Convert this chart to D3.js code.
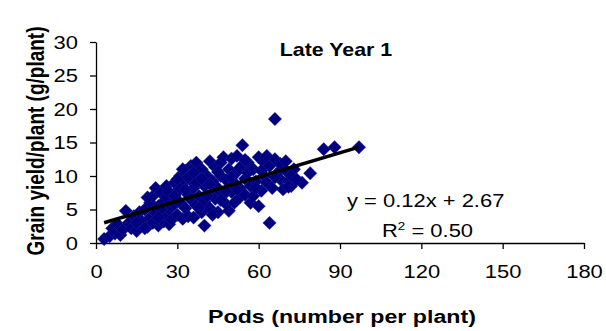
<!DOCTYPE html>
<html>
<head>
<meta charset="utf-8">
<script src="https://cdn.jsdelivr.net/npm/d3@7"></script>
<style>
  html, body { margin: 0; padding: 0; background: #fff; }
  svg { display: block; }
  text { font-family: "Liberation Sans", Arial, sans-serif; fill: #000; }
</style>
</head>
<body>
<svg id="chart" width="606" height="331"></svg>
<script>
// Pods per plant vs grain yield per plant, late planting, year 1
const pods = [
  3, 5, 6, 7, 8, 9, 10, 11, 12, 13, 14, 15, 16, 17,
  18, 19, 20, 20, 21, 22, 22, 23, 23, 24, 25, 25, 26, 26, 27, 27, 28, 28,
  29, 29, 30, 30, 31, 31, 32, 32, 33, 33, 34, 34, 35, 35, 35, 36, 36, 37, 37, 38, 38, 39, 39, 40, 40, 40,
  41, 42, 42, 43, 43, 44, 44, 45, 45, 46, 46, 47, 47, 48, 48, 49, 50, 50, 51, 51, 52, 52, 53, 53, 54, 54, 55, 55, 56, 56, 57, 57,
  58, 59, 60, 60, 61, 62, 62, 63, 64, 64, 65, 66, 66, 67, 68, 68, 69, 70, 71, 72, 73,
  76, 79, 84, 88, 97,
  15, 18, 21, 24, 26, 30, 31, 32, 34, 36, 37, 41, 43, 44, 46, 48, 49, 52, 58, 61, 63, 66, 70, 71, 72, 74,
  19, 23, 27, 29, 33, 38, 39, 42, 45, 50, 53, 55, 59
];
const grainYield = [
  0.6, 1.0, 2.2, 1.4, 2.8, 1.2, 2.0, 4.8, 3.0, 2.2, 4.0, 1.8, 4.6, 3.2,
  5.0, 2.4, 6.0, 3.8, 7.0, 8.2, 4.5, 5.5, 2.6, 7.5, 3.2, 6.2, 8.5, 4.0, 5.0, 2.8, 7.0, 3.5,
  9.0, 5.8, 4.2, 7.8, 10.0, 6.0, 3.6, 8.8, 5.2, 10.8, 7.2, 4.0, 11.5, 9.4, 6.5, 3.8, 8.2, 12.0, 5.6, 10.2, 7.0, 4.6, 11.0, 8.5, 2.6, 6.2,
  10.0, 12.2, 5.2, 7.5, 9.2, 11.3, 6.6, 4.6, 8.0, 12.0, 10.0, 7.2, 12.8, 5.8, 9.4, 11.0, 7.6, 12.6, 6.0, 9.0, 10.6, 13.0, 8.2, 6.8, 14.6, 11.6, 9.6, 7.2, 12.0, 10.5, 8.5, 6.0,
  11.0, 9.2, 5.5, 12.8, 7.8, 10.0, 12.0, 9.0, 3.0, 11.5, 8.2, 18.5, 12.5, 10.5, 9.5, 11.8, 8.0, 10.8, 9.2, 8.5, 11.0,
  9.0, 10.4, 14.0, 14.3, 14.3,
  3.0, 2.2, 3.0, 5.0, 6.8, 9.5, 8.0, 11.0, 9.8, 10.5, 9.0, 7.0, 4.2, 8.6, 6.4, 7.8, 4.8, 8.0, 7.0, 10.8, 13.0, 9.8, 12.2, 8.4, 10.0, 9.5,
  6.8, 3.8, 7.6, 7.0, 8.0, 5.2, 9.6, 8.8, 10.6, 9.8, 11.2, 12.4, 8.2
];
const xTicks = [0, 30, 60, 90, 120, 150, 180];
const yTicks = [0, 5, 10, 15, 20, 25, 30];
const trendSlope = 0.12;
const trendIntercept = 2.67;
const rSquared = "0.50";

const sx = 1.22;              // horizontal glyph stretch
const fontSize = 17.5;

const svg = d3.select("#chart");
const x = d3.scaleLinear().domain([0, 180]).range([96, 584]);
const y = d3.scaleLinear().domain([0, 30]).range([243, 42]);

// stretched text helper
function label(sel, px, py, opts = {}) {
  return sel.append("text")
    .attr("transform", `translate(${px},${py}) scale(${sx},1)` + (opts.rotate ? ` rotate(${opts.rotate})` : ""))
    .attr("text-anchor", opts.anchor || "start")
    .style("font-size", (opts.size || fontSize) + "px")
    .style("font-weight", opts.bold ? "bold" : "normal");
}

// axes
const yAxis = svg.append("g")
  .attr("transform", `translate(${x(0)},0)`)
  .call(d3.axisLeft(y).tickValues(yTicks).tickSize(6).tickSizeOuter(0));
const xAxis = svg.append("g")
  .attr("transform", `translate(0,${y(0)})`)
  .call(d3.axisBottom(x).tickValues(xTicks).tickSize(6).tickSizeOuter(0));

[yAxis, xAxis].forEach(g => {
  g.select(".domain").attr("stroke", "#000").attr("stroke-width", 1.3);
  g.selectAll(".tick line").attr("stroke", "#000").attr("stroke-width", 1.3);
  g.selectAll("text").style("font-size", "18px").style("font-family", '"Liberation Sans", Arial, sans-serif').attr("fill", "#000");
});
yAxis.selectAll(".tick text")
  .attr("x", -18 / sx).attr("dy", "0.35em")
  .attr("transform", `scale(${sx},1)`);
xAxis.selectAll(".tick text")
  .attr("y", 35).attr("dy", 0)
  .attr("transform", `scale(${sx},1)`);

// scatter points as diamonds
const r = 6.7;
svg.append("g")
  .selectAll("path")
  .data(pods.map((p, i) => [p, grainYield[i]]))
  .join("path")
  .attr("d", d => {
    const cx = x(d[0]), cy = y(d[1]);
    return `M${cx},${cy - r}L${cx + r},${cy}L${cx},${cy + r}L${cx - r},${cy}Z`;
  })
  .attr("fill", "#000080")
  .attr("stroke", "#2a2a9a")
  .attr("stroke-width", 0.4);

// linear trend line over the observed range
const [xmin, xmax] = d3.extent(pods);
svg.append("line")
  .attr("x1", x(xmin)).attr("y1", y(trendSlope * xmin + trendIntercept))
  .attr("x2", x(xmax)).attr("y2", y(trendSlope * xmax + trendIntercept))
  .attr("stroke", "#000").attr("stroke-width", 3.6);

// title
label(svg, 336, 56, { anchor: "middle", bold: true }).text("Late Year 1");

// regression annotation
label(svg, 347, 207, { size: 18 }).text(`y = ${trendSlope}x + ${trendIntercept}`);
const r2 = label(svg, 382, 237, { size: 18 });
r2.append("tspan").text("R");
r2.append("tspan").attr("dy", -7).style("font-size", "11px").text("2");
r2.append("tspan").attr("dy", 7).text(` = ${rSquared}`);

// axis titles
label(svg, 342, 323, { anchor: "middle", bold: true, size: 19 }).text("Pods (number per plant)");
label(svg, 44, 141, { anchor: "middle", bold: true, size: 19, rotate: -90 }).text("Grain yield/plant (g/plant)");
</script>
</body>
</html>
